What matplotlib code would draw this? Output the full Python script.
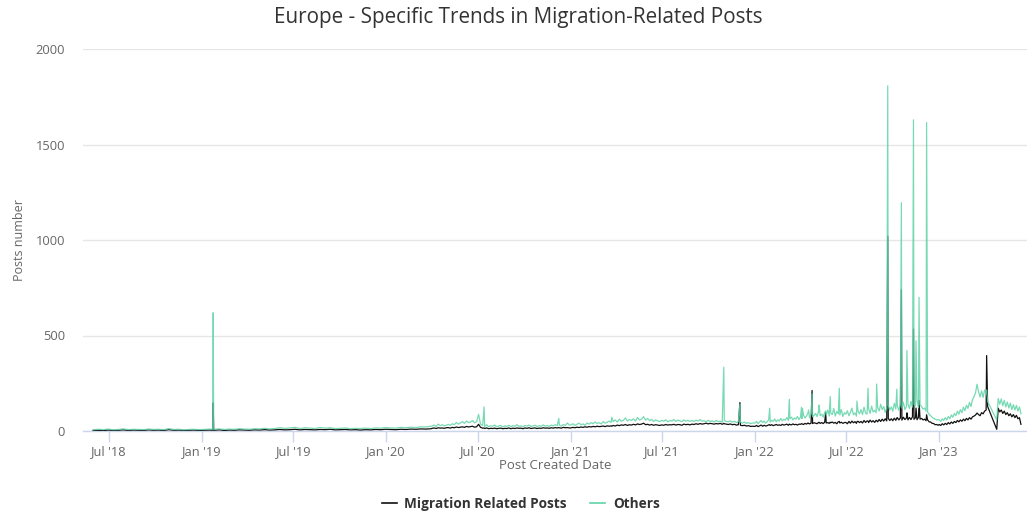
import matplotlib
matplotlib.use("Agg")
import matplotlib.pyplot as plt
from matplotlib.lines import Line2D
import pandas as pd

plt.rcParams['font.family'] = ['Open Sans', 'DejaVu Sans']

title = "Europe - Specific Trends in Migration-Related Posts"
x_title = "Post Created Date"
y_title = "Posts number"
series_names = ["Migration Related Posts", "Others"]

tick_dates = ["2018-07-01", "2019-01-01", "2019-07-01", "2020-01-01", "2020-07-01",
              "2021-01-01", "2021-07-01", "2022-01-01", "2022-07-01", "2023-01-01"]
tick_labels = ["Jul '18", "Jan '19", "Jul '19", "Jan '20", "Jul '20",
               "Jan '21", "Jul '21", "Jan '22", "Jul '22", "Jan '23"]
y_ticks = [0, 500, 1000, 1500, 2000]

# ---- baseline readings, period by period (start date, spacing in days) ----
p1_start, p1_step = "2018-05-30", 10
p1_mig = [3, 4, 2, 5, 3, 4, 6, 3, 5, 4,
          3, 6, 4, 5, 3, 7, 4, 5, 3, 4,
          5, 3, 4, 5, 4, 6, 3, 5, 4, 6,
          5, 4, 6, 5, 7, 5, 6, 8, 6, 7,
          9, 6, 8, 7, 6, 8, 7, 9, 6, 7,
          8, 6, 7, 5, 7, 6, 8, 7, 9, 8,
          7, 9, 8, 10, 9, 11, 10, 12]
p1_oth = [6, 9, 7, 10, 6, 8, 11, 7, 9, 8,
          7, 10, 8, 9, 7, 12, 8, 9, 6, 8,
          9, 7, 8, 10, 9, 11, 8, 10, 9, 12,
          10, 9, 12, 11, 14, 11, 13, 17, 14, 16,
          19, 13, 17, 15, 13, 18, 15, 17, 13, 14,
          16, 12, 14, 13, 15, 13, 16, 15, 18, 16,
          15, 19, 17, 20, 18, 22, 21, 25]

p2_start, p2_step = "2020-04-01", 4
p2_mig = [14, 16, 13, 17, 15, 16, 14, 17, 18, 15,
          19, 17, 21, 18, 20, 22, 19, 24, 21, 23,
          25, 20, 22, 35, 19, 15, 13, 16, 12, 14,
          13, 15, 12, 14, 15, 12, 14, 13, 16, 12,
          15, 13, 16, 14, 15, 12, 16, 14, 17, 13,
          15, 16, 13, 15, 14, 17, 15, 16, 14, 17,
          15, 18, 16, 17, 15, 19, 17, 18, 16]
p2_oth = [26, 31, 24, 36, 28, 33, 27, 30, 35, 29,
          38, 33, 45, 36, 42, 49, 40, 52, 44, 47,
          55, 43, 48, 87, 36, 28, 24, 33, 22, 27,
          25, 31, 22, 26, 29, 21, 27, 24, 30, 23,
          28, 25, 33, 24, 27, 22, 29, 26, 31, 24,
          27, 30, 23, 28, 25, 32, 26, 29, 24, 31,
          27, 33, 28, 30, 26, 34, 29, 42, 31]

p3_start, p3_step = "2021-01-01", 4
p3_mig = [16, 19, 17, 20, 18, 21, 19, 22, 20, 23,
          21, 24, 22, 25, 23, 24, 26, 23, 27, 25,
          27, 29, 26, 31, 28, 32, 30, 34, 29, 33,
          31, 35, 32, 37, 34, 36, 41, 33, 35, 31,
          34, 30, 33, 31, 29, 32, 30, 34, 31, 33,
          32, 35, 31, 34, 33, 30, 36, 33, 35, 32,
          36, 34, 38, 35, 39, 36, 38, 41, 37, 40,
          38, 36, 39, 37, 40, 35, 38, 36, 34, 37,
          33, 35, 31, 33, 30, 28, 30, 26, 28, 24, 25]
p3_oth = [31, 38, 29, 35, 41, 33, 37, 30, 42, 36,
          44, 38, 47, 40, 43, 37, 49, 41, 46, 52,
          45, 50, 58, 47, 62, 51, 56, 68, 53, 60,
          55, 64, 52, 71, 58, 62, 75, 57, 66, 54,
          61, 50, 58, 53, 49, 56, 51, 59, 48, 55,
          52, 60, 50, 57, 53, 49, 58, 51, 56, 50,
          55, 49, 57, 52, 60, 51, 54, 48, 56, 50,
          53, 47, 55, 49, 52, 46, 54, 50, 48, 53,
          46, 51, 44, 49, 45, 42, 47, 40, 44, 38, 42]

p4_start, p4_step = "2022-01-01", 3
p4_mig = [24, 29, 23, 27, 31, 25, 30, 26, 28, 32,
          29, 33, 28, 31, 34, 30, 32, 29, 35, 31,
          33, 36, 30, 34, 32, 37, 33, 35, 31, 36,
          35, 38, 34, 40, 36, 42, 37, 41, 39, 43,
          41, 38, 45, 40, 44, 39, 46, 42, 44, 40,
          43, 47, 41, 45, 38, 48, 42, 46, 40, 44,
          45, 38, 50, 41, 52, 43, 49, 40, 51, 44,
          50, 42, 55, 45, 53, 44, 57, 47, 54, 45,
          56, 48, 60, 50, 62, 52, 64, 53, 66, 55,
          64, 54, 67, 56, 70, 58, 68, 57, 72, 60,
          68, 58, 71, 60, 74, 61, 70, 59, 72, 62,
          66, 58, 62, 54, 58, 48, 47, 40, 39, 33, 34, 30]
p4_oth = [42, 50, 38, 47, 55, 44, 52, 41, 49, 58,
          47, 56, 50, 63, 48, 59, 52, 66, 54, 61,
          57, 70, 55, 64, 73, 58, 68, 62, 76, 60,
          72, 65, 84, 68, 78, 95, 70, 88, 74, 82,
          92, 75, 104, 80, 88, 72, 98, 84, 110, 79,
          94, 86, 118, 78, 102, 90, 84, 112, 76, 96,
          88, 106, 80, 98, 120, 85, 95, 78, 104, 90,
          112, 86, 125, 95, 88, 118, 92, 130, 100, 108,
          96, 122, 105, 140, 112, 128, 98, 118, 135, 110,
          126, 104, 145, 115, 132, 108, 138, 120, 150, 112,
          128, 142, 118, 155, 125, 140, 132, 160, 122, 138,
          128, 115, 120, 104, 98, 88, 80, 72, 66, 62, 58, 60]

p5_start, p5_step = "2023-01-01", 3
p5_mig = [34, 29, 38, 32, 40, 34, 44, 37, 47, 40,
          50, 44, 55, 48, 58, 51, 62, 54, 66, 58,
          70, 62, 74, 78, 84, 94, 86, 80, 96, 90,
          104, 110, 128, None, None, None, None, None, 9, 119,
          100, 110, 92, 104, 86, 96, 80, 90, 74, 86,
          70, 82, 64, 70, 35]
p5_oth = [58, 50, 64, 55, 70, 58, 76, 64, 84, 72,
          92, 80, 104, 88, 112, 96, 125, 106, 135, 118,
          150, 128, 165, 180, 200, 245, 205, 178, 210, 176,
          215, 195, 154, None, None, None, None, None, 58, 170,
          140, 168, 132, 160, 126, 152, 120, 146, 112, 138,
          110, 134, 104, 126, 90]

# ---- single-day peaks (with the baseline read on the days beside them) ----
spike_dates = ["2019-01-22", "2019-01-23", "2019-01-24",
               "2020-07-13", "2020-12-08", "2021-03-23", "2021-10-31",
               "2021-12-02", "2022-01-30", "2022-03-10", "2022-04-03", "2022-04-05",
               "2022-04-17", "2022-04-24", "2022-05-08", "2022-05-21", "2022-05-30",
               "2022-06-17", "2022-07-22", "2022-08-13", "2022-08-30", "2022-09-21",
               "2022-10-09", "2022-10-18", "2022-10-29", "2022-11-11", "2022-11-16",
               "2022-11-22", "2022-12-07", "2023-04-05"]
spike_mig = [4, 147, 5,
             16, 18, 25, 40,
             149, 33, 36, 38, 36,
             40, 212, 45, 96, 46,
             50, 49, 52, 55, 1020,
             68, 740, 95, 534, 120,
             160, 85, 395]
spike_oth = [9, 619, 10,
             126, 66, 72, 334,
             140, 119, 166, 124, 118,
             110, 194, 136, 105, 180,
             224, 157, 224, 246, 1807,
             219, 1195, 421, 1629, 472,
             700, 1615, 215]

periods = [(p1_start, p1_step, p1_mig, p1_oth),
           (p2_start, p2_step, p2_mig, p2_oth),
           (p3_start, p3_step, p3_mig, p3_oth),
           (p4_start, p4_step, p4_mig, p4_oth),
           (p5_start, p5_step, p5_mig, p5_oth)]
frames = []
for start, step, mig, oth in periods:
    idx = pd.date_range(start, periods=len(mig), freq=f"{step}D")
    frames.append(pd.DataFrame({"mig": mig, "oth": oth}, index=idx))
frames.append(pd.DataFrame({"mig": spike_mig, "oth": spike_oth},
                           index=pd.to_datetime(spike_dates)))
df = pd.concat(frames).sort_index().astype(float)
mig_s = df["mig"].dropna()
oth_s = df["oth"].dropna()

fig = plt.figure(figsize=(10.27, 5.15), dpi=100)
W, H = 1027, 515
left, right, top, bottom = 83, 1027, 49, 431
ax = fig.add_axes([left / W, (H - bottom) / H, (right - left) / W, (bottom - top) / H])

black = "#111111"
green = "#5fd4a7"
ax.plot(mig_s.index, mig_s.values, color=black, lw=0.9, zorder=3)
ax.plot(oth_s.index, oth_s.values, color=green, lw=0.9, alpha=0.85, zorder=4)

ax.set_ylim(0, 2000)
ax.set_xlim(pd.Timestamp("2018-05-10"), pd.Timestamp("2023-06-24"))
ax.set_yticks(y_ticks)
ax.set_yticklabels([str(v) for v in y_ticks])
ax.set_xticks(pd.to_datetime(tick_dates))
ax.set_xticklabels(tick_labels)

ax.grid(axis="y", color="#e6e6e6", lw=1)
ax.set_axisbelow(True)
for s in ["top", "right", "left"]:
    ax.spines[s].set_visible(False)
ax.spines["bottom"].set_color("#ccd6eb")
ax.spines["bottom"].set_linewidth(1)
ax.tick_params(axis="x", colors="#ccd6eb", length=8, width=1, labelcolor="#666666",
               labelsize=9.3, pad=2)
ax.tick_params(axis="y", length=0, labelcolor="#666666", labelsize=9.3, pad=13)

ax.set_xlabel(x_title, color="#666666", fontsize=9.5, labelpad=1)
ax.set_ylabel(y_title, color="#666666", fontsize=9, labelpad=7)

fig.text(0.5045, 1 - 17 / H, title, ha="center", va="center", fontsize=14.9, color="#333333")

handles = [Line2D([], [], color=black, lw=1.2), Line2D([], [], color=green, lw=1.2)]
leg = fig.legend(handles, series_names, loc="center", bbox_to_anchor=(0.507, 1 - 504 / H),
                 ncol=2, frameon=False, handlelength=1.1, handletextpad=0.55, columnspacing=1.75,
                 prop={"weight": "bold", "size": 9.8})
for t in leg.get_texts():
    t.set_color("#333333")

fig.savefig("out.png", dpi=100)
